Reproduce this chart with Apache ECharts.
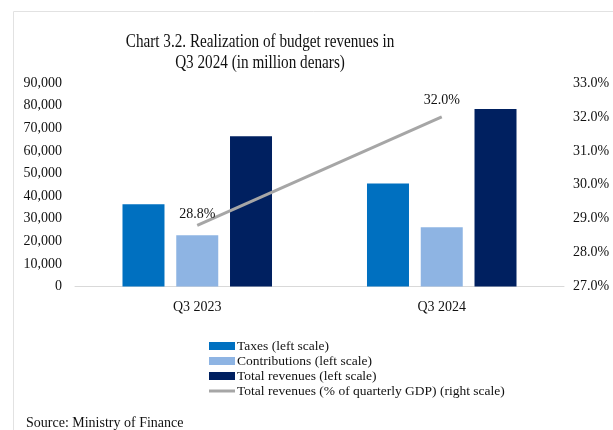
<!DOCTYPE html>
<html><head><meta charset="utf-8">
<script src="https://cdn.jsdelivr.net/npm/echarts@6/dist/echarts.min.js"></script>
<style>html,body{margin:0;padding:0;background:#fff}#c{width:613px;height:430px}</style>
</head><body><div id="c"></div>
<script>
const categories = ['Q3 2023', 'Q3 2024'];
const taxes = [36400, 45600];
const contributions = [22700, 26200];
const totalRevenues = [66500, 78500];
const revenuesPctGdp = [28.8, 32.0];
const leftTicks = [0, 90000, 10000];
const rightTicks = [27, 33, 1];

const F = '"Liberation Serif", "DejaVu Serif", serif';
const chart = echarts.init(document.getElementById('c'), null, {renderer: 'canvas'});
const labelDist = [4, 10];
chart.setOption({
  animation: false,
  backgroundColor: '#fff',
  graphic: [
    {type: 'line', shape: {x1: 13.5, y1: 11.5, x2: 613, y2: 11.5}, style: {stroke: '#e2e2e2', lineWidth: 1}},
    {type: 'line', shape: {x1: 13.5, y1: 11.5, x2: 13.5, y2: 430}, style: {stroke: '#e2e2e2', lineWidth: 1}},
    {type: 'text', x: 260, y: 42, scaleX: 0.8,
     style: {text: 'Chart 3.2. Realization of budget revenues in', font: '19px ' + F, fill: '#111',
       textAlign: 'center', textVerticalAlign: 'middle'}},
    {type: 'text', x: 260, y: 63, scaleX: 0.8,
     style: {text: 'Q3 2024 (in million denars)', font: '19px ' + F, fill: '#111',
       textAlign: 'center', textVerticalAlign: 'middle'}},
    {type: 'text', left: 26, top: 416, style: {text: 'Source: Ministry of Finance', font: '14px ' + F, fill: '#111'}}
  ],
  legend: {
    orient: 'vertical', left: 204, top: 334, itemGap: 1, itemWidth: 26, itemHeight: 8,
    textStyle: {fontFamily: F, fontSize: 13.5, color: '#111', padding: [0,0,0,-3]},
    data: [
      {name: 'Taxes (left scale)', icon: 'rect'},
      {name: 'Contributions (left scale)', icon: 'rect'},
      {name: 'Total revenues (left scale)', icon: 'rect'},
      {name: 'Total revenues (% of quarterly GDP) (right scale)', icon: 'path://M0,0H26V3H0Z',
       itemStyle: {color: '#a6a6a6', opacity: 1}}
    ]
  },
  grid: {left: 75, right: 49, top: 83, bottom: 143.5},
  xAxis: {
    type: 'category', data: categories,
    axisLine: {lineStyle: {color: '#d9d9d9'}}, axisTick: {show: false},
    axisLabel: {fontFamily: F, fontSize: 14, color: '#111', margin: 14}
  },
  yAxis: [
    {type: 'value', min: leftTicks[0], max: leftTicks[1], interval: leftTicks[2],
     splitLine: {show: false}, axisLine: {show: false}, axisTick: {show: false},
     axisLabel: {fontFamily: F, fontSize: 14, color: '#111', margin: 13,
       formatter: v => v === 0 ? '0' : v.toLocaleString('en-US')}},
    {type: 'value', min: rightTicks[0], max: rightTicks[1], interval: rightTicks[2],
     splitLine: {show: false}, axisLine: {show: false}, axisTick: {show: false},
     axisLabel: {fontFamily: F, fontSize: 14, color: '#111', margin: 9,
       formatter: v => v.toFixed(1) + '%'}}
  ],
  series: [
    {name: 'Taxes (left scale)', type: 'bar', data: taxes, barWidth: 42, barGap: '28%',
     itemStyle: {color: '#0070c0'}},
    {name: 'Contributions (left scale)', type: 'bar', data: contributions, barWidth: 42,
     itemStyle: {color: '#8eb4e3'}},
    {name: 'Total revenues (left scale)', type: 'bar', data: totalRevenues, barWidth: 42,
     itemStyle: {color: '#002060'}},
    {name: 'Total revenues (% of quarterly GDP) (right scale)', type: 'line', yAxisIndex: 1,
     data: revenuesPctGdp.map((v, i) => ({value: v, label: {distance: labelDist[i]}})),
     symbol: 'circle', symbolSize: 0, showSymbol: true,
     lineStyle: {color: '#a6a6a6', width: 3},
     itemStyle: {color: '#a6a6a6'},
     label: {show: true, position: 'top', fontFamily: F, fontSize: 14, color: '#111',
       formatter: p => p.value.toFixed(1) + '%'}}
  ]
});
</script></body></html>
